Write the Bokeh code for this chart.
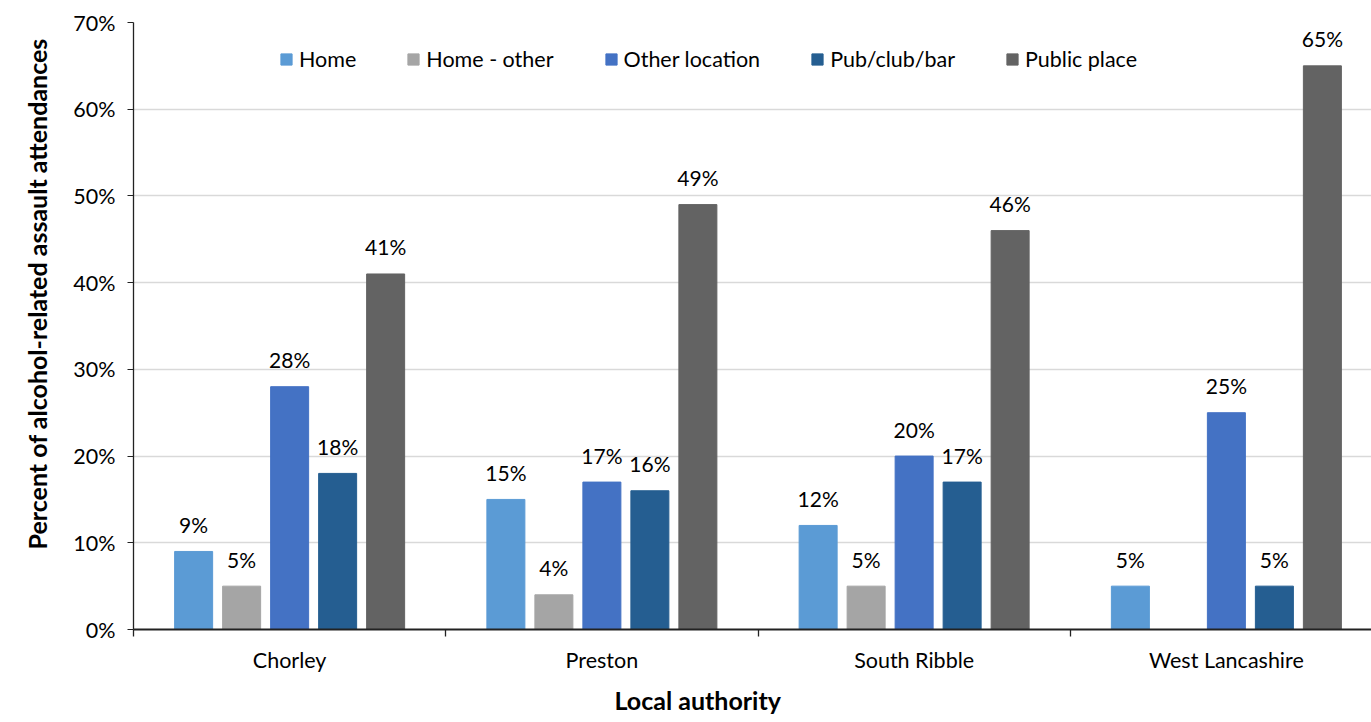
from bokeh.plotting import figure
from bokeh.models import Range1d, FixedTicker, PrintfTickFormatter, ColumnDataSource, Legend, LegendItem, Title
from bokeh.core.properties import value
from bokeh.embed import file_html
from bokeh.resources import INLINE

categories = ["Chorley", "Preston", "South Ribble", "West Lancashire"]
series = ["Home", "Home - other", "Other location", "Pub/club/bar", "Public place"]
home = [9, 15, 12, 5]
home_other = [5, 4, 5, None]
other_location = [28, 17, 20, 25]
pub_club_bar = [18, 16, 17, 5]
public_place = [41, 49, 46, 65]
y_ticks = [0, 10, 20, 30, 40, 50, 60, 70]
x_title = "Local authority"
y_title = "Percent of alcohol-related assault attendances"

values = [home, home_other, other_location, pub_club_bar, public_place]
colors = ["#5B9BD5", "#A5A5A5", "#4472C4", "#255E91", "#636363"]

FONT = "Lato"

p = figure(width=1371, height=722, output_backend="svg", toolbar_location=None,
           x_range=Range1d(0, 1238 / 312.25), y_range=Range1d(0, 70),
           min_border_left=133, min_border_right=0, min_border_top=22, min_border_bottom=92)
p.outline_line_color = None
p.xgrid.grid_line_color = None
p.ygrid.grid_line_color = "#D9D9D9"
p.ygrid.grid_line_width = 1.3
p.yaxis.ticker = FixedTicker(ticks=y_ticks)
p.yaxis.formatter = PrintfTickFormatter(format="%d%%")
p.yaxis.minor_tick_line_color = None
p.yaxis.major_tick_out = 6
p.yaxis.major_tick_in = 0
p.yaxis.major_label_standoff = 12
p.yaxis.axis_line_color = "#222222"
p.yaxis.major_tick_line_color = "#222222"
p.yaxis.axis_line_width = 1.3
p.yaxis.major_label_text_font = FONT
p.yaxis.major_label_text_font_size = "21.5px"
p.yaxis.major_label_text_color = "#000000"

centers = [i + 0.5 for i in range(len(categories))]
p.xaxis.ticker = FixedTicker(ticks=centers, minor_ticks=[0, 1, 2, 3, 4])
p.xaxis.major_label_overrides = {c: n for c, n in zip(centers, categories)}
p.xaxis.major_tick_line_color = None
p.xaxis.minor_tick_out = 7
p.xaxis.minor_tick_in = 0
p.xaxis.minor_tick_line_color = "#222222"
p.xaxis.minor_tick_line_width = 1.3
p.xaxis.axis_line_color = "#222222"
p.xaxis.axis_line_width = 1.8
p.xaxis.major_label_standoff = 10
p.xaxis.major_label_text_font = FONT
p.xaxis.major_label_text_font_size = "21.5px"
p.xaxis.major_label_text_color = "#000000"

step = 48 / 312.25
bw = 38 / 312.25
items = []
for j, (name, vals, col) in enumerate(zip(series, values, colors)):
    xs, ys, labels = [], [], []
    for i, v in enumerate(vals):
        if v is None:
            continue
        xs.append(centers[i] + (j - 2) * step)
        ys.append(v)
        labels.append(f"{v}%")
    src = ColumnDataSource(dict(x=xs, top=ys, label=labels))
    r = p.vbar(x="x", top="top", width=bw, bottom=0, source=src, fill_color=col, line_color=col)
    p.text(x="x", y="top", text="label", source=src, text_align="center", text_baseline="alphabetic",
           y_offset=-27, text_font=value(FONT), text_font_size=value("21px"), text_color="#000000")
    items.append(LegendItem(label=name, renderers=[r]))

legend = Legend(items=items, orientation="horizontal", location=(146, 557),
                glyph_width=14, glyph_height=14, label_standoff=6, spacing=50, padding=0,
                margin=0, border_line_color=None, background_fill_alpha=0,
                label_text_font=FONT, label_text_font_size="21.5px", label_text_color="#000000")
p.add_layout(legend, "center")

p.add_layout(Title(text=x_title, align="left", offset=481, text_font=FONT, standoff=15,
                   text_font_size="25px", text_font_style="bold", text_color="#000000"), "below")
p.add_layout(Title(text=y_title, align="left", offset=80, text_font=FONT, standoff=38,
                   text_font_size="25px", text_font_style="bold", text_color="#000000"), "left")

open("out.html", "w").write(file_html(p, INLINE))
